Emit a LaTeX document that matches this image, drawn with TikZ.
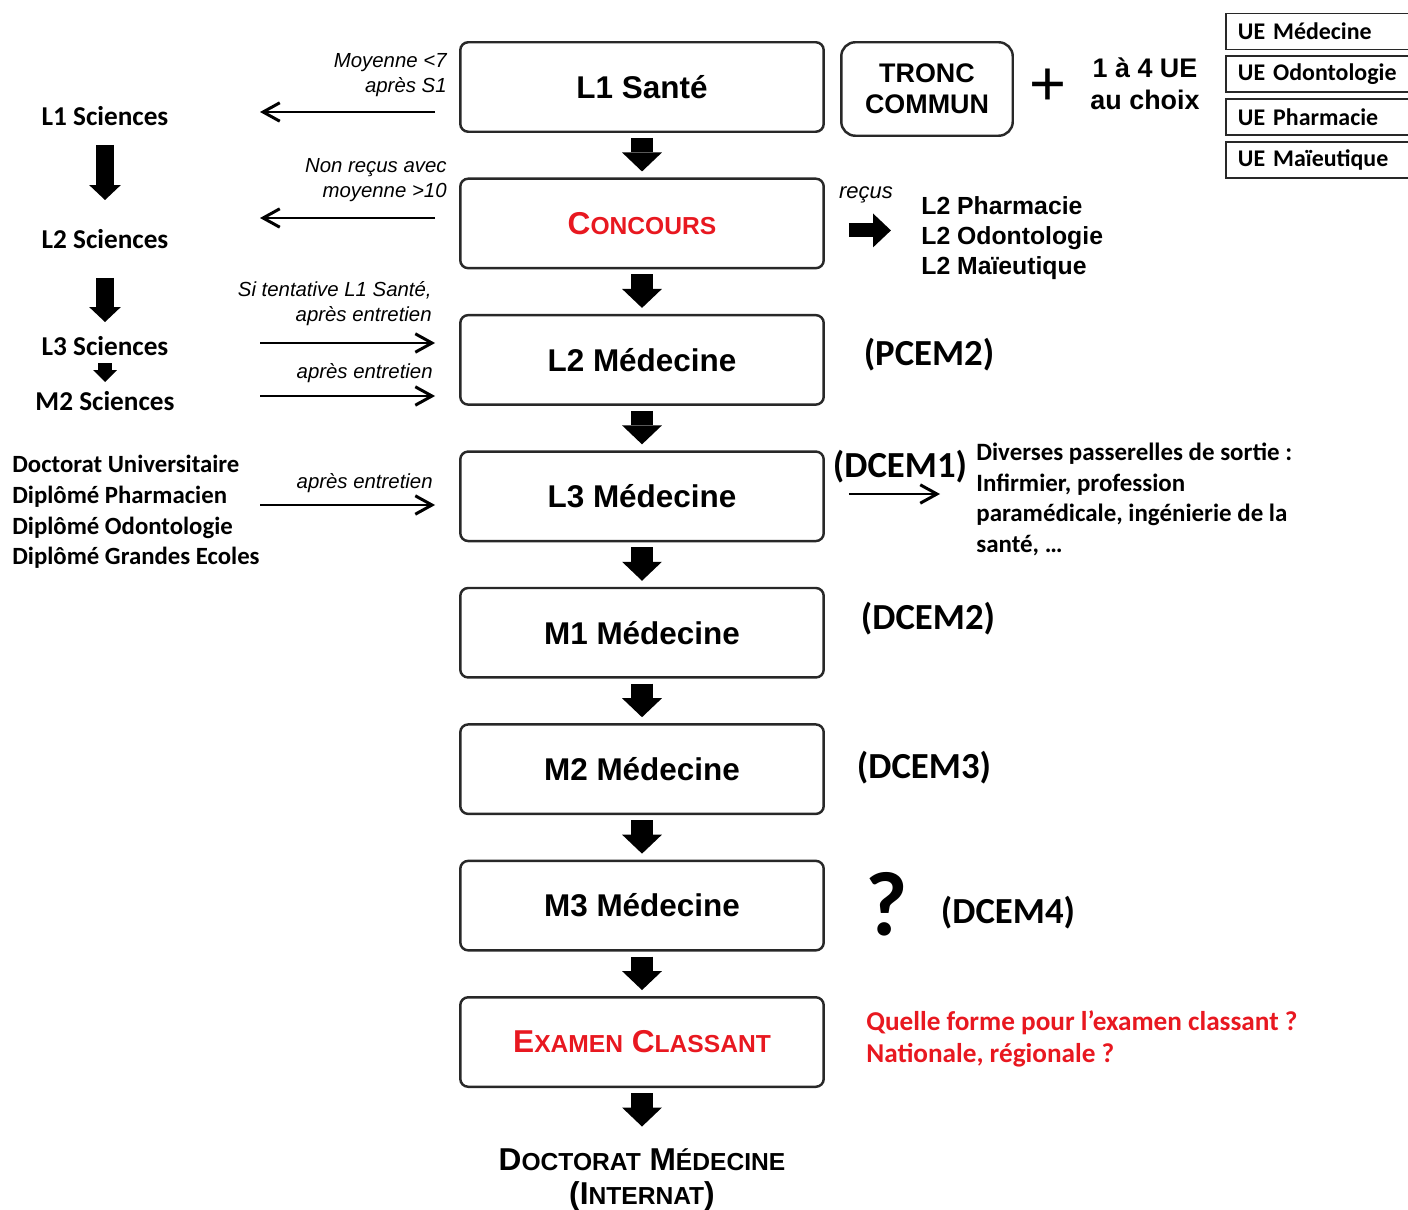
\documentclass[tikz,border=0pt]{standalone}
\usepackage{fontspec}
\setmainfont{Liberation Sans}
\newfontfamily\carlito{Carlito}
\usetikzlibrary{positioning,calc,arrows.meta}

\definecolor{rouge}{RGB}{232,24,32}
\definecolor{trait}{RGB}{40,40,40}

\newcommand{\petitcap}[2]{{\fontsize{18}{20}\selectfont #1}{\fontsize{14}{16}\selectfont #2}}

\tikzset{
	etape/.style={draw=trait, line width=1.4pt, rounded corners=4.5pt, minimum width=7.27cm, minimum height=1.79cm, font=\bfseries\fontsize{17.9}{20}\selectfont},
	txt/.style={inner sep=0pt},
	sci/.style={txt, font=\carlito\bfseries\fontsize{15.5}{18}\selectfont},
	cycle/.style={txt, font=\carlito\bfseries\fontsize{20.9}{24}\selectfont},
	note/.style={txt, anchor=east, align=right, font=\itshape\fontsize{11.6}{14.2}\selectfont},
	ue/.style={draw=trait, line width=1.1pt, anchor=west, text width=3.7cm, align=left, inner xsep=0.24cm, minimum height=0.72cm, font=\carlito\bfseries\fontsize{13.6}{16}\selectfont},
	flow/.style={line width=1.7pt, -{Straight Barb[length=9.5pt, width=10.5pt]}},
	bigdown/.style={line width=13pt, -{Triangle[length=10.8pt, width=22.7pt, line width=0pt]}, shorten <=0.1cm, shorten >=0.12cm},
	scidown/.style={line width=10.5pt, -{Triangle[length=8.5pt, width=18pt, line width=0pt]}},
	smalldown/.style={line width=8pt, -{Triangle[length=6.8pt, width=13.6pt, line width=0pt]}},
}

\begin{document}
\begin{tikzpicture}[x=0.02cm, y=-0.02cm]
	\useasboundingbox (0,0) rectangle (1408,1209);

	% colonne centrale
	\node[etape] (l1) at (642,87) {L1 Santé};
	\node[etape, below=0.89cm of l1] (conc) {\textcolor{rouge}{\petitcap{C}{ONCOURS}}};
	\node[etape, below=0.89cm of conc] (l2) {L2 Médecine};
	\node[etape, below=0.89cm of l2] (l3) {L3 Médecine};
	\node[etape, below=0.89cm of l3] (m1) {M1 Médecine};
	\node[etape, below=0.89cm of m1] (m2) {M2 Médecine};
	\node[etape, below=0.89cm of m2] (m3) {M3 Médecine};
	\node[etape, below=0.89cm of m3] (exam) {\textcolor{rouge}{\petitcap{E}{XAMEN} \petitcap{C}{LASSANT}}};
	\node[txt, align=center, font=\bfseries\fontsize{18}{19.3}\selectfont] (doc) at (642,1180) {\petitcap{D}{OCTORAT} \petitcap{M}{ÉDECINE}\\\petitcap{(I}{NTERNAT}{\fontsize{18}{20}\selectfont)}};

	\foreach \a/\b in {l1/conc, conc/l2, l2/l3, l3/m1, m1/m2, m2/m3, m3/exam}
		\draw[bigdown] (\a) -- (\b);
	\draw[bigdown, shorten >=0.44cm] (exam) -- (doc);

	% tronc commun et UE
	\node[draw=trait, line width=1.4pt, rounded corners=8pt, minimum width=3.43cm, minimum height=1.87cm, align=center, font=\bfseries\fontsize{15.3}{17.6}\selectfont] (tronc) at (927,89) {TRONC\\COMMUN};
	\node[txt, font=\fontsize{36}{40}\selectfont] (plus) at (1048,87) {+};
	\node[txt, align=center, font=\bfseries\fontsize{15.3}{18.4}\selectfont] (choix) at (1145,84) {1 à 4 UE\\au choix};
	\node[ue] (ue1) at (1225,31.5) {UE Médecine};
	\node[ue, below=0.1cm of ue1.south west, anchor=north west] (ue2) {UE Odontologie};
	\node[ue, below=0.1cm of ue2.south west, anchor=north west] (ue3) {UE Pharmacie};
	\node[ue, below=0.1cm of ue3.south west, anchor=north west] (ue4) {UE Maïeutique};

	% reçus
	\node[txt, font=\itshape\fontsize{12.5}{14}\selectfont] (recus) at (866,195) {reçus};
	\draw[line width=8pt, -{Triangle[length=10.2pt, width=19.3pt, line width=0pt]}] ($(conc.east)+(24,7)$) -- ($(conc.east)+(66,7)$);
	\node[txt, anchor=west, align=left, font=\bfseries\fontsize{14.1}{17}\selectfont] (autres) at (921,238) {L2 Pharmacie\\L2 Odontologie\\L2 Maïeutique};

	% colonne sciences
	\node[sci] (sci1) at (105,116) {L1 Sciences};
	\node[sci] (sci2) at (105,239) {L2 Sciences};
	\node[sci] (sci3) at (105,346) {L3 Sciences};
	\node[sci] (sci4) at (105,401) {M2 Sciences};
	\draw[scidown] ($(sci1)+(0,29)$) -- ($(sci2)+(0,-39)$);
	\draw[scidown] ($(sci2)+(0,39)$) -- ($(sci3)+(0,-24)$);
	\draw[smalldown] ($(sci3)+(0,17)$) -- ($(sci4)+(0,-19)$);

	\node[txt, anchor=west, align=left, font=\carlito\bfseries\fontsize{14.1}{17.4}\selectfont] (dipl) at (12,512) {Doctorat Universitaire\\Diplômé Pharmacien\\Diplômé Odontologie\\Diplômé Grandes Ecoles};

	% passerelles
	\coordinate (s1) at (260,112);
	\coordinate (s2) at (260,218);
	\coordinate (e1) at (260,343);
	\coordinate (e2) at (260,396);
	\coordinate (e3) at (260,505);
	\draw[flow, shorten <=0.48cm] (l1.west |- s1) -- (s1);
	\draw[flow, shorten <=0.48cm] (conc.west |- s2) -- (s2);
	\draw[flow, shorten >=0.48cm] (e1) -- (e1 -| l2.west);
	\draw[flow, shorten >=0.48cm] (e2) -- (e2 -| l2.west);
	\draw[flow, shorten >=0.48cm] (e3) -- (e3 -| l3.west);

	\node[note] (n1) at (447,75) {Moyenne <7\\après S1};
	\node[note] (n2) at (447,180) {Non reçus avec\\moyenne >10};
	\node[note] (n3) at (432,303.5) {Si tentative L1 Santé,\\après entretien};
	\node[note] (n4) at (433,373) {après entretien};
	\node[note] (n5) at (433,483) {après entretien};

	% anciens cycles
	\node[cycle] (pcem2) at (929,355) {(PCEM2)};
	\node[cycle] (dcem1) at (900,467) {(DCEM1)};
	\node[cycle] (dcem2) at (928,619) {(DCEM2)};
	\node[cycle] (dcem3) at (924,768) {(DCEM3)};
	\node[txt, font=\carlito\bfseries\fontsize{52}{56}\selectfont] (qm) at (887,904) {?};
	\node[cycle] (dcem4) at (1008,913) {(DCEM4)};

	\coordinate (p1) at (940,494);
	\draw[flow, shorten <=0.48cm] (l3.east |- p1) -- (p1);
	\node[txt, anchor=north west, align=left, font=\carlito\bfseries\fontsize{14.2}{17.3}\selectfont] (sortie) at (976,443) {Diverses passerelles de sortie :\\Infirmier, profession\\paramédicale, ingénierie de la\\santé, …};

	\node[txt, anchor=west, align=left, text=rouge, font=\carlito\bfseries\fontsize{15.5}{18.1}\selectfont] (question) at (866,1039) {Quelle forme pour l’examen classant ?\\Nationale, régionale ?};
\end{tikzpicture}
\end{document}
